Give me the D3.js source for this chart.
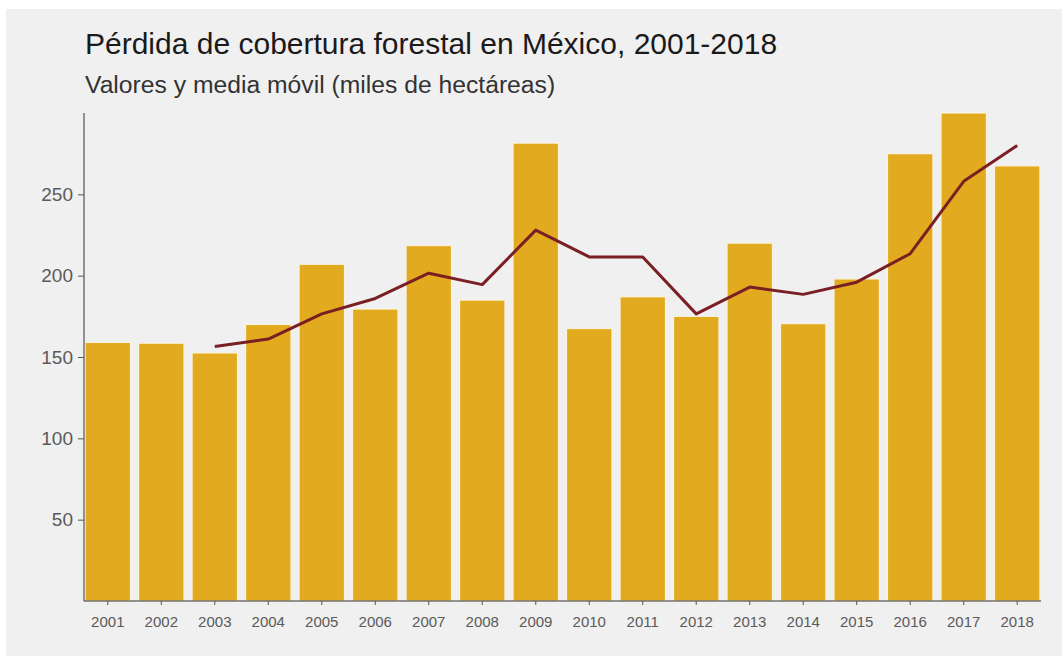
<!DOCTYPE html>
<html>
<head>
<meta charset="utf-8">
<script src="https://cdn.jsdelivr.net/npm/d3@7"></script>
<style>
  body { margin: 0; background: #fff; }
  text { font-family: "Liberation Sans", Arial, sans-serif; }
</style>
</head>
<body>
<svg width="1062" height="656"></svg>
<script>
// perdida anual (miles de ha) y media movil de 3 años
var years = ["2001","2002","2003","2004","2005","2006","2007","2008","2009",
             "2010","2011","2012","2013","2014","2015","2016","2017","2018"];
var values = [159, 158.5, 152.5, 170, 207, 179.5, 218.5, 185, 281.5,
              167.5, 187, 175, 220, 170.5, 198, 275, 300, 267.5];
var movingAvg = [null, null, 156.5, 161, 176.5, 186, 201.5, 194.5, 228,
                 211.5, 211.5, 176.5, 193, 188.5, 196, 213.5, 258, 280];
var yTicks = [50, 100, 150, 200, 250];

var svg = d3.select("svg"),
    width = +svg.attr("width"),
    height = +svg.attr("height");

var pLeft = 84, pRight = 1041, pTop = 113, pBottom = 601;

svg.append("rect")
    .attr("x", 6).attr("y", 9)
    .attr("width", width - 6).attr("height", height - 9)
    .attr("fill", "#f0f0f0");

var x = d3.scaleBand()
    .domain(years)
    .range([pLeft, pRight])
    .paddingInner(0.15)
    .paddingOuter(0.02);

var y = d3.scaleLinear()
    .domain([0, 300])
    .range([pBottom, pTop]);

// barras
svg.append("g")
    .selectAll("rect")
    .data(values)
    .enter().append("rect")
    .attr("x", function(d, i) { return x(years[i]); })
    .attr("y", function(d) { return y(d); })
    .attr("width", x.bandwidth())
    .attr("height", function(d) { return y(0) - y(d); })
    .attr("fill", "#e2aa1f")
    .attr("stroke", "#fbf3df")
    .attr("stroke-width", 1.2);

// media movil
var line = d3.line()
    .defined(function(d) { return d != null; })
    .x(function(d, i) { return x(years[i]) + x.bandwidth() / 2; })
    .y(function(d) { return y(d); });

svg.append("path")
    .datum(movingAvg)
    .attr("d", line)
    .attr("fill", "none")
    .attr("stroke", "#7a1f24")
    .attr("stroke-width", 3)
    .attr("stroke-linejoin", "round");

// ejes
var yAxis = svg.append("g")
    .attr("transform", "translate(" + pLeft + ",0)")
    .call(d3.axisLeft(y).tickValues(yTicks).tickSize(6).tickPadding(5));
yAxis.select(".domain").attr("d", "M0," + pTop + "V" + pBottom).attr("stroke", "#333");
yAxis.selectAll(".tick line").attr("stroke", "#555");
yAxis.selectAll("text")
    .attr("font-size", 19)
    .attr("fill", "#5a5a5a")
    .style("font-family", "'Liberation Sans', Arial, sans-serif");

var xAxis = svg.append("g")
    .attr("transform", "translate(0," + pBottom + ")")
    .call(d3.axisBottom(x).tickSize(4).tickPadding(11));
xAxis.select(".domain").attr("d", "M" + pLeft + ",0H" + pRight).attr("stroke", "#333");
xAxis.selectAll(".tick line").attr("stroke", "#555");
xAxis.selectAll("text")
    .attr("font-size", 15)
    .attr("fill", "#5a5a5a")
    .style("font-family", "'Liberation Sans', Arial, sans-serif");

// titulos
svg.append("text")
    .attr("x", 85).attr("y", 54)
    .attr("font-size", 30)
    .attr("fill", "#1a1a1a")
    .text("Pérdida de cobertura forestal en México, 2001-2018");

svg.append("text")
    .attr("x", 85).attr("y", 93)
    .attr("font-size", 24.7)
    .attr("fill", "#333")
    .text("Valores y media móvil (miles de hectáreas)");
</script>
</body>
</html>
